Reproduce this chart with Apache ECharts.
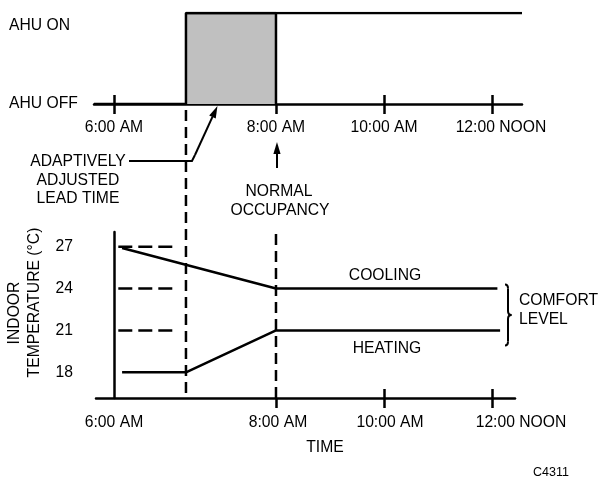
<!DOCTYPE html>
<html><head><meta charset="utf-8">
<script src="https://cdn.jsdelivr.net/npm/echarts@6/dist/echarts.min.js"></script>
<style>html,body{margin:0;padding:0;background:#fff}#c{width:599px;height:479px}</style>
</head><body><div id="c"></div>
<script>
// Schematic time positions (the original time axis is not drawn to scale)
const timeTicks = [0, 3, 5, 7];
const timeLabels = ['6:00 AM', '8:00 AM', '10:00 AM', '12:00 NOON'];
const tempTicks = [18, 21, 24, 27];
const ahuLevels = [0, 1];
const ahuLabels = ['AHU OFF', 'AHU ON'];
const leadStart = 1.333;      // adaptively adjusted start
const occupancy = 3;          // 8:00 AM normal occupancy
const ahuX = [-0.37, 1.333, 7.556];
const ahuY = [0, 1, 1];
const coolingX = [0.15, 3, 7.1];
const coolingY = [26.9, 24, 24];
const heatingX = [0.15, 1.333, 3, 7.15];
const heatingY = [18, 18, 21, 21];
const setpoints = [27, 24, 21];
const setpointX = [0.08, 1.18];

const FONT = 'Liberation Sans, Arial, Helvetica, sans-serif';
const FS = 15.7;
const LW = 2.5;
const black = '#000';
const zip = (xs, ys) => xs.map((x, i) => [x, ys[i]]);

const topX = { min: -0.37, max: 7.556 };
const botX = { min: -0.333, max: 7.426 };
const botY = { min: 16.165, max: 28.05 };

function timeFmt(shifts) {
  return v => {
    const i = timeTicks.indexOf(v);
    if (i < 0) return '';
    return '{s' + shifts[i] + '|' + timeLabels[i] + '}';
  };
}
function richShifts(shifts) {
  const r = {};
  shifts.forEach(s => { r['s' + s] = { fontFamily: FONT, fontSize: FS, color: black, padding: [0, 0, 0, s] }; });
  return r;
}
const topShifts = [0, 0, 0, 18];
const botShifts = [0, 4, 12, 58];

const chart = echarts.init(document.getElementById('c'), null, { renderer: 'canvas' });
const option = {
  animation: false,
  backgroundColor: '#fff',
  grid: [
    { left: 94, right: 77, top: 13, height: 91 },
    { left: 96, right: 84, top: 232, bottom: 81 }
  ],
  xAxis: [
    { gridIndex: 0, type: 'value', min: topX.min, max: topX.max, position: 'bottom',
      axisLine: { show: true, onZero: true, lineStyle: { color: black, width: LW } },
      axisTick: { show: true, inside: false, length: 10, customValues: timeTicks, lineStyle: { color: black, width: LW } },
      axisLabel: { show: true, margin: 16, customValues: timeTicks, formatter: timeFmt(topShifts), rich: richShifts(topShifts) },
      splitLine: { show: false } },
    { gridIndex: 0, type: 'value', min: topX.min, max: topX.max, position: 'bottom',
      axisLine: { show: false },
      axisTick: { show: true, inside: true, length: 9, customValues: [timeTicks[0], timeTicks[2], timeTicks[3]], lineStyle: { color: black, width: LW } },
      axisLabel: { show: false }, splitLine: { show: false } },
    { gridIndex: 1, type: 'value', min: botX.min, max: botX.max, position: 'bottom',
      axisLine: { show: true, lineStyle: { color: black, width: LW } },
      axisTick: { show: true, inside: false, length: 10, customValues: timeTicks.slice(1), lineStyle: { color: black, width: LW } },
      axisLabel: { show: true, margin: 17, customValues: timeTicks, formatter: timeFmt(botShifts), rich: richShifts(botShifts) },
      splitLine: { show: false } },
    { gridIndex: 1, type: 'value', min: botX.min, max: botX.max, position: 'bottom',
      axisLine: { show: false },
      axisTick: { show: true, inside: true, length: 9, customValues: timeTicks.slice(2), lineStyle: { color: black, width: LW } },
      axisLabel: { show: false }, splitLine: { show: false } }
  ],
  yAxis: [
    { gridIndex: 0, type: 'value', min: 0, max: 1,
      axisLine: { show: false, onZero: false }, axisTick: { show: false }, splitLine: { show: false },
      axisLabel: { show: true, align: 'left', margin: 85, customValues: ahuLevels,
        formatter: v => v === 1 ? '{on|' + ahuLabels[1] + '}' : '{off|' + ahuLabels[0] + '}',
        rich: { on: { fontFamily: FONT, fontSize: FS, color: black, padding: [26, 0, 0, 0] },
                off: { fontFamily: FONT, fontSize: FS, color: black } } } },
    { gridIndex: 1, type: 'value', min: botY.min, max: botY.max,
      axisLine: { show: true, onZero: true, lineStyle: { color: black, width: LW } },
      axisTick: { show: false }, splitLine: { show: false },
      axisLabel: { show: true, margin: 23, customValues: tempTicks, fontFamily: FONT, fontSize: FS, color: black } }
  ],
  series: [
    { type: 'line', xAxisIndex: 0, yAxisIndex: 0, data: [[leadStart, 1], [occupancy, 1], [occupancy, 0]],
      symbol: 'none', lineStyle: { color: black, width: LW }, areaStyle: { color: '#c0c0c0', opacity: 1 }, z: 2 },
    { type: 'line', xAxisIndex: 0, yAxisIndex: 0, data: zip(ahuX, ahuY), step: 'end',
      symbol: 'none', lineStyle: { color: black, width: LW }, z: 3 },
    { type: 'line', xAxisIndex: 2, yAxisIndex: 1, data: zip(coolingX, coolingY),
      symbol: 'none', lineStyle: { color: black, width: LW } },
    { type: 'line', xAxisIndex: 2, yAxisIndex: 1, data: zip(heatingX, heatingY),
      symbol: 'none', lineStyle: { color: black, width: LW } },
    ...setpoints.map(sp => ({ type: 'line', xAxisIndex: 2, yAxisIndex: 1,
      data: setpointX.map(x => [x, sp]), symbol: 'none',
      lineStyle: { color: black, width: LW, type: [14, 6] } })),
    { type: 'line', xAxisIndex: 2, yAxisIndex: 1, data: [[occupancy, botY.min], [occupancy, botY.max + 0.15]],
      clip: false, symbol: 'none', lineStyle: { color: black, width: LW, type: [11, 6] } }
  ]
};
chart.setOption(option);

const Ptop = p => chart.convertToPixel({ xAxisIndex: 0, yAxisIndex: 0 }, p);
const Pbot = p => chart.convertToPixel({ xAxisIndex: 2, yAxisIndex: 1 }, p);

function arrow(x1, y1, x2, y2) {
  const a = Math.atan2(y2 - y1, x2 - x1), L = 12, W = 3.6;
  const bx = x2 - L * Math.cos(a), by = y2 - L * Math.sin(a);
  const nx = -Math.sin(a) * W, ny = Math.cos(a) * W;
  return [
    { type: 'line', shape: { x1, y1, x2: bx, y2: by }, style: { stroke: black, lineWidth: 2 } },
    { type: 'polygon', shape: { points: [[x2, y2], [bx + nx, by + ny], [bx - nx, by - ny]] }, style: { fill: black } }
  ];
}
function txt(text, x, y, opts) {
  return Object.assign({ type: 'text', x, y,
    style: Object.assign({ text, fontFamily: FONT, fontSize: FS, fill: black, align: 'center', verticalAlign: 'middle' }, (opts && opts.style) || {}) },
    opts && opts.rotation !== undefined ? { rotation: opts.rotation } : {});
}
function curve(x1, y1, cx, cy, x2, y2) {
  return { type: 'bezierCurve', shape: { x1, y1, x2, y2, cpx1: cx, cpy1: cy }, style: { stroke: black, lineWidth: 2, fill: null } };
}
function seg(x1, y1, x2, y2, w) {
  return { type: 'line', shape: { x1, y1, x2, y2 }, style: { stroke: black, lineWidth: w || 2 } };
}

const leadTop = Ptop([leadStart, 0]);
const leadBot = Pbot([leadStart, botY.min]);
const occTop = Ptop([occupancy, 0]);
const tip = Ptop([leadStart + 0.35 * (occupancy - leadStart), 0]);
const bendY = 161;
const g = [];
g.push({ type: 'line', shape: { x1: leadTop[0], y1: leadTop[1] + 6, x2: leadBot[0], y2: leadBot[1] },
  style: { stroke: black, lineWidth: LW, lineDash: [11, 6] } });
g.push({ type: 'polyline', shape: { points: [[129, bendY], [leadTop[0] + 6, bendY], [leadTop[0] + 9, bendY - 6]] },
  style: { stroke: black, lineWidth: 2, fill: null } });
g.push(...arrow(leadTop[0] + 9, bendY - 6, tip[0], tip[1] + 2));
g.push(...arrow(occTop[0] + 1, 168, occTop[0] + 1, 142));
g.push(txt('ADAPTIVELY', 78, 162));
g.push(txt('ADJUSTED', 78, 180.5));
g.push(txt('LEAD TIME', 78, 199));
g.push(txt('NORMAL', 279, 191.5));
g.push(txt('OCCUPANCY', 280, 210.5));
g.push(txt('COOLING', 385, 276));
g.push(txt('HEATING', 387, 349));
g.push(txt('COMFORT', 519, 301, { style: { align: 'left' } }));
g.push(txt('LEVEL', 519, 319.5, { style: { align: 'left' } }));
g.push(txt('TIME', 325, 447.5));
g.push(txt('C4311', 551, 472.5, { style: { fontSize: 12.5 } }));
g.push(txt('INDOOR', 14.5, 313, { rotation: Math.PI / 2 }));
g.push(txt('TEMPERATURE (°C)', 34.5, 302.5, { rotation: Math.PI / 2 }));
// comfort-level brace
const by1 = Pbot([0, 24])[1] - 4, by2 = Pbot([0, 21])[1] + 15, bm = (by1 + by2) / 2;
g.push(curve(505, by1, 508, by1, 508, by1 + 4));
g.push(seg(508, by1 + 4, 508, bm - 4));
g.push(curve(508, bm - 4, 508, bm, 511.5, bm));
g.push(curve(511.5, bm, 508, bm, 508, bm + 4));
g.push(seg(508, bm + 4, 508, by2 - 4));
g.push(curve(508, by2 - 4, 508, by2, 505, by2));
chart.setOption({ graphic: g });
</script></body></html>
